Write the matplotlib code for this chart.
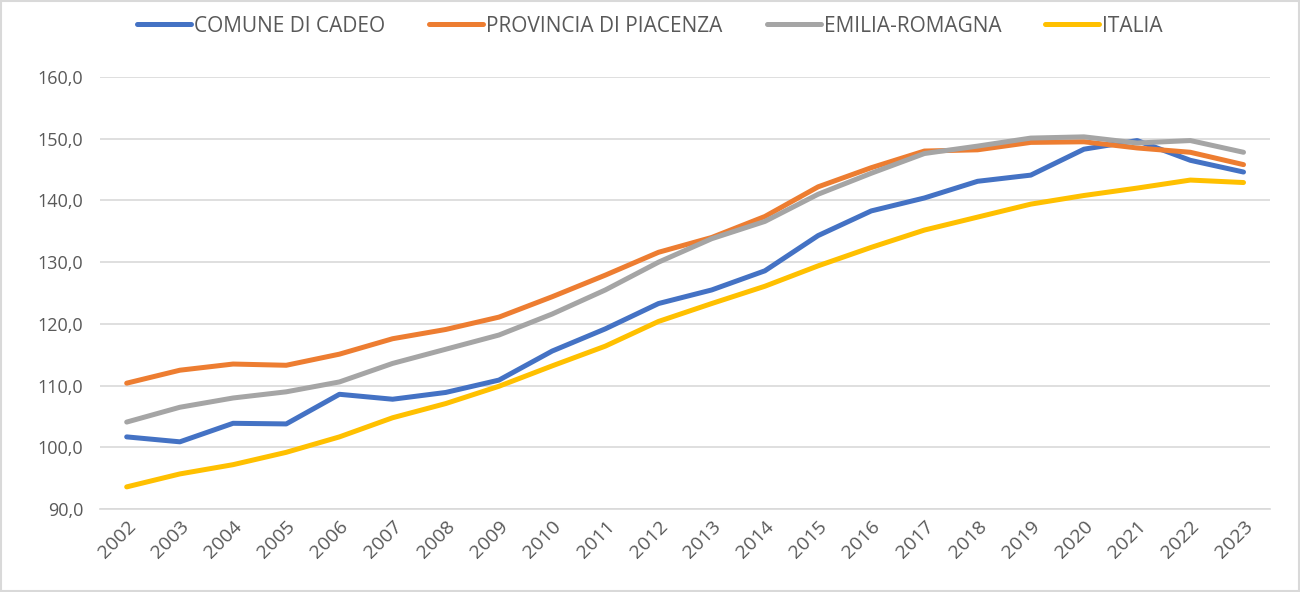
import matplotlib.pyplot as plt
from matplotlib.ticker import FuncFormatter

plt.rcParams['font.family'] = ['Open Sans', 'DejaVu Sans']

anni = [str(a) for a in range(2002, 2024)]

cadeo = [101.7, 100.9, 103.9, 103.8, 108.6, 107.8, 108.9, 110.9, 115.6, 119.2, 123.3, 125.5,
         128.6, 134.3, 138.3, 140.4, 143.1, 144.1, 148.3, 149.7, 146.5, 144.6]
piacenza = [110.4, 112.5, 113.5, 113.3, 115.1, 117.6, 119.1, 121.1, 124.4, 127.9, 131.6, 134.0,
            137.4, 142.2, 145.3, 148.0, 148.2, 149.4, 149.5, 148.5, 147.8, 145.8]
emilia = [104.1, 106.5, 108.0, 109.0, 110.6, 113.6, 115.9, 118.2, 121.6, 125.5, 130.0, 133.8,
          136.6, 141.0, 144.4, 147.6, 148.8, 150.1, 150.3, 149.3, 149.7, 147.8]
italia = [93.6, 95.7, 97.2, 99.2, 101.7, 104.8, 107.1, 109.9, 113.2, 116.4, 120.4, 123.3,
          126.1, 129.4, 132.4, 135.2, 137.3, 139.4, 140.8, 142.0, 143.3, 142.9]

serie = [
    ('COMUNE DI CADEO', cadeo, '#4472C4'),
    ('PROVINCIA DI PIACENZA', piacenza, '#ED7D31'),
    ('EMILIA-ROMAGNA', emilia, '#A5A5A5'),
    ('ITALIA', italia, '#FFC000'),
]

fig = plt.figure(figsize=(13, 5.92), dpi=100)
ax = fig.add_axes([0.077, 0.140, 0.900, 0.730])

x = range(len(anni))
for nome, valori, colore in serie:
    ax.plot(x, valori, color=colore, linewidth=3.6, label=nome, solid_capstyle='round')

ax.set_xlim(-0.5, len(anni) - 0.5)
ax.set_ylim(90, 160)
ax.set_yticks(range(90, 161, 10))
ax.yaxis.set_major_formatter(FuncFormatter(lambda v, p: f'{v:.1f}'.replace('.', ',')))
ax.set_xticks(list(x))
ax.set_xticklabels(anni, rotation=45, ha='right', rotation_mode='anchor')

ax.grid(axis='y', color='#D9D9D9', linewidth=1.2)
ax.set_axisbelow(True)
for s in ['top', 'right', 'left']:
    ax.spines[s].set_visible(False)
ax.spines['bottom'].set_color('#D9D9D9')
ax.spines['bottom'].set_linewidth(1.2)
ax.tick_params(length=0, colors='#595959')
ax.tick_params(axis='y', labelsize=13, pad=12)
ax.tick_params(axis='x', labelsize=14, pad=6)

fig.legend(loc='upper center', bbox_to_anchor=(0.5, 1.005), ncol=4, frameon=False,
           fontsize=15, labelcolor='#595959', handlelength=2.6, handletextpad=0.15,
           columnspacing=2.1)

fig.patches.append(plt.Rectangle((0.001, 0.001), 0.998, 0.998, transform=fig.transFigure,
                                 fill=False, edgecolor='#D9D9D9', linewidth=1.5))

fig.savefig('out.png', dpi=100)
